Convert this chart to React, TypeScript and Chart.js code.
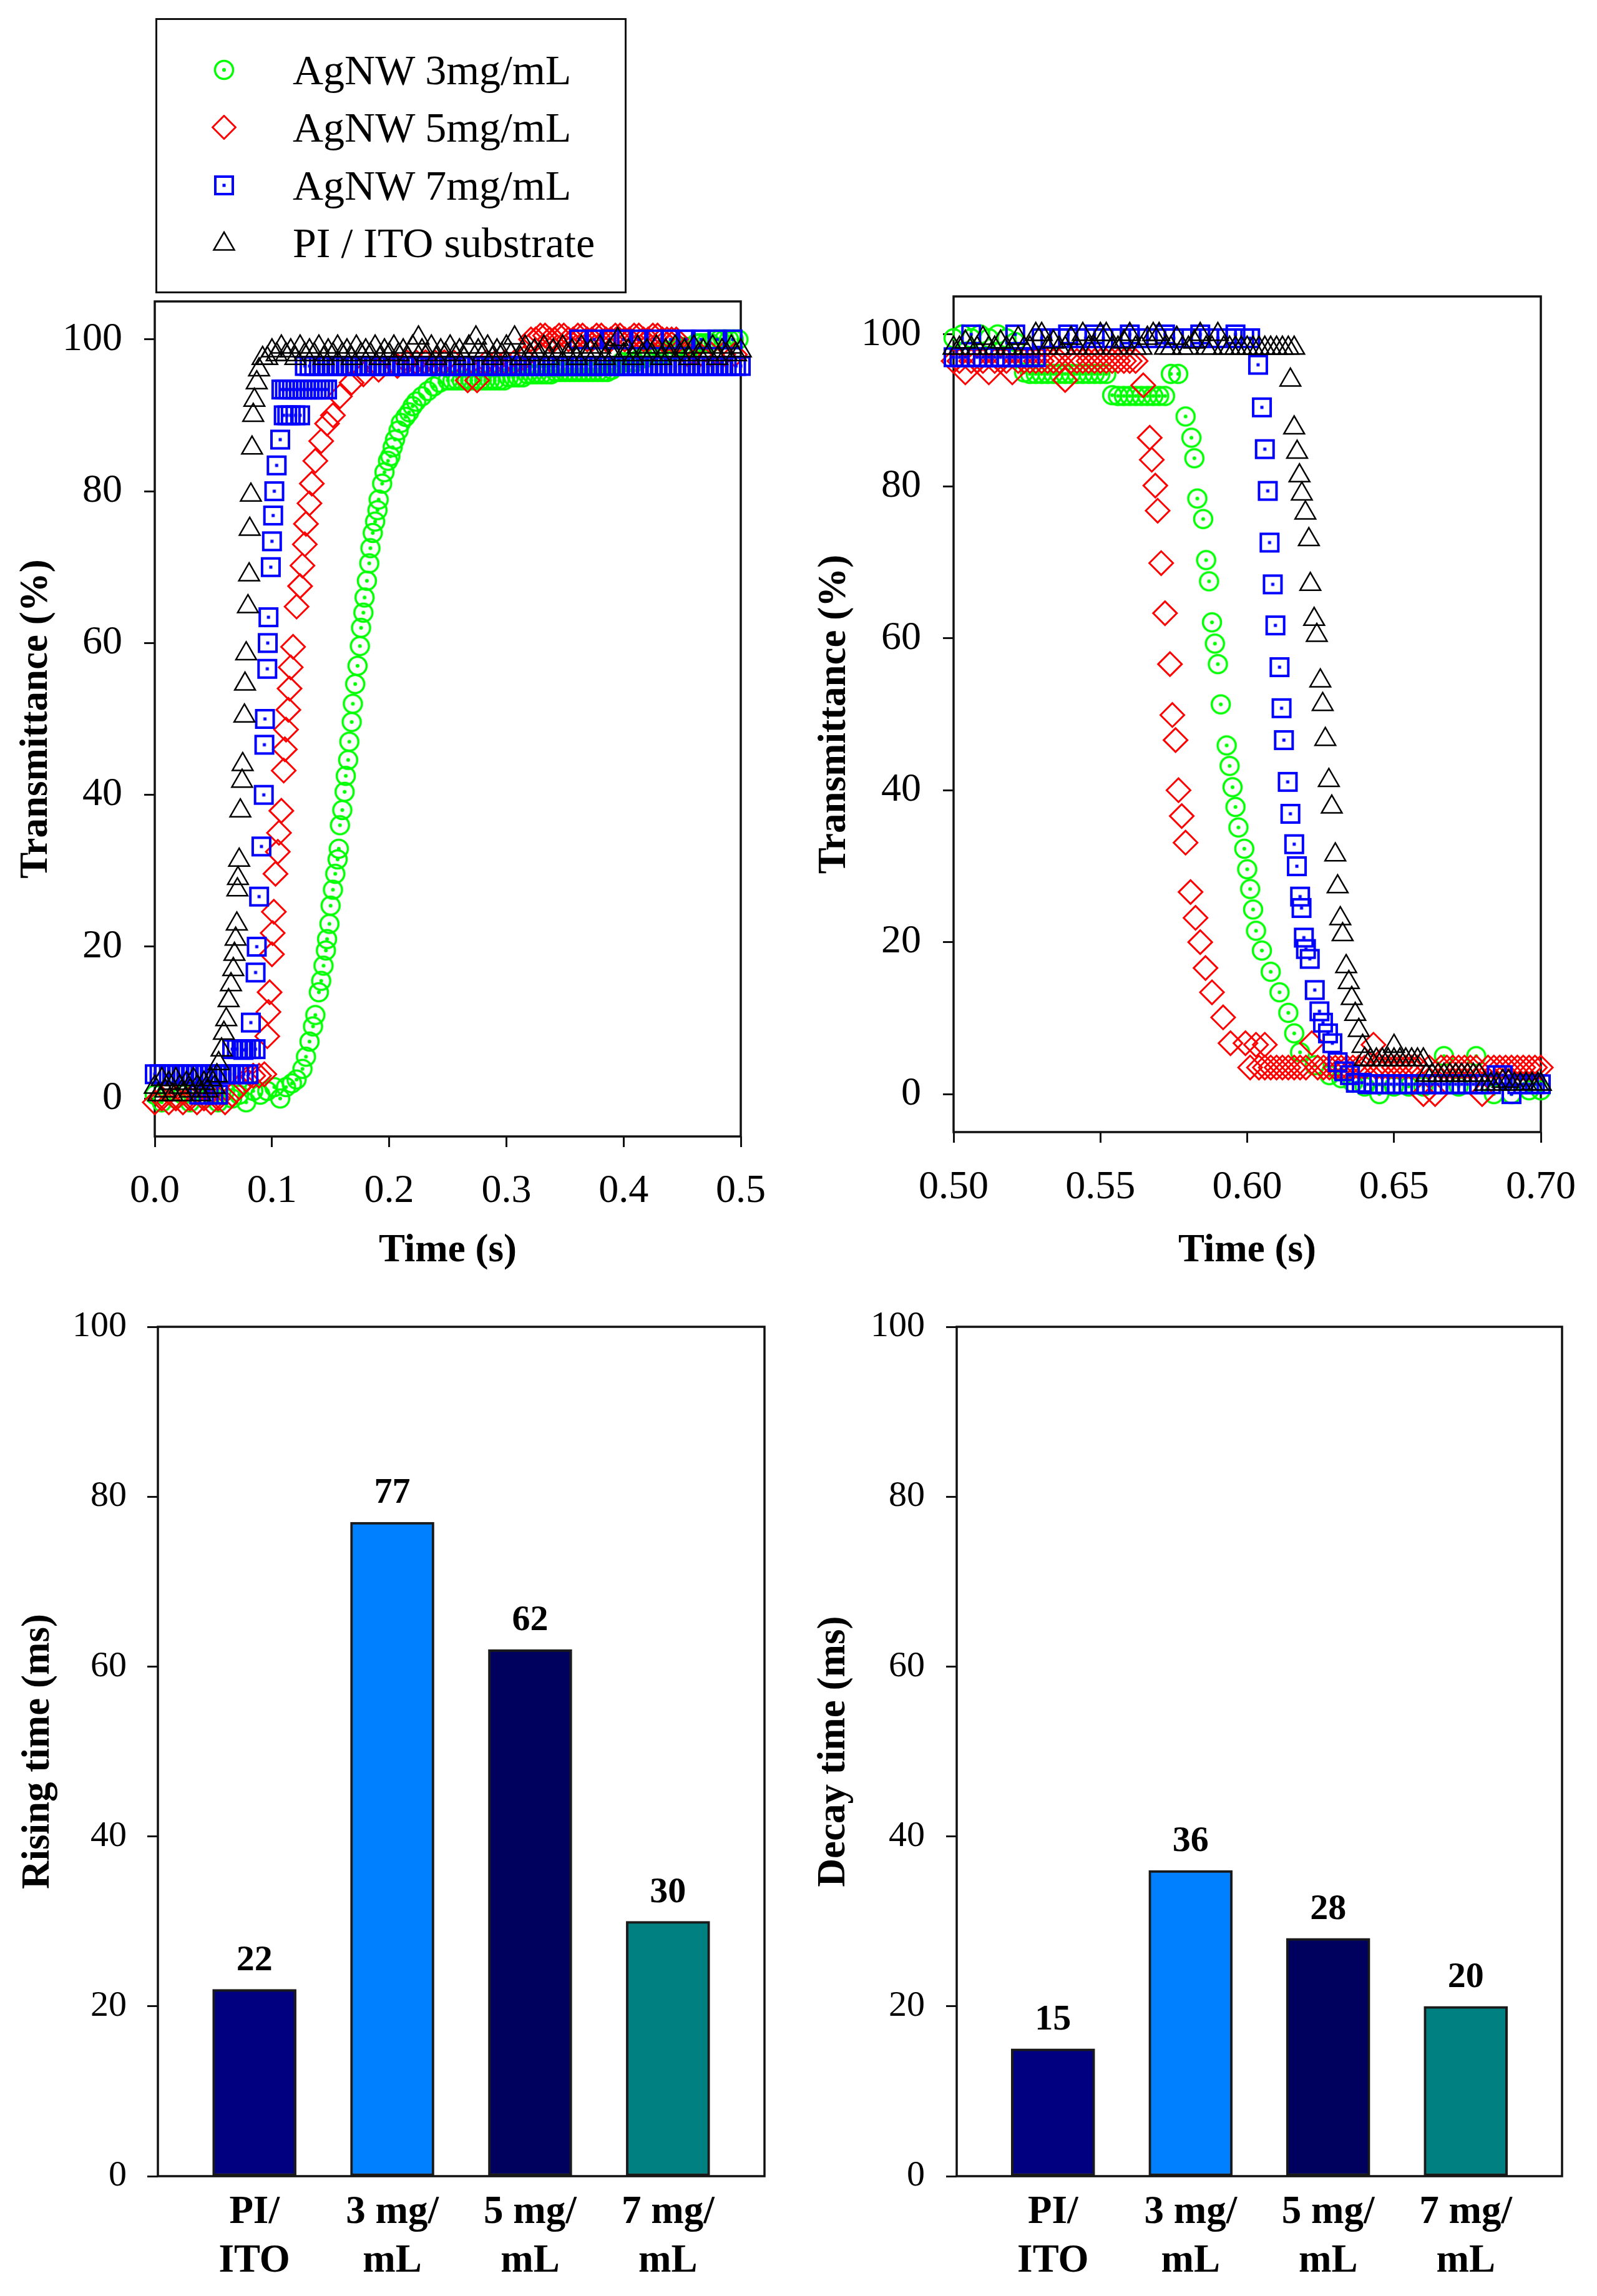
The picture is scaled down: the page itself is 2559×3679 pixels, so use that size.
import React, { useEffect, useRef } from "react";
import { Chart, registerables } from "chart.js";

Chart.register(...registerables);

const SERIF = "'Liberation Serif', 'Times New Roman', Times, serif";

// ---------------- data ----------------
const seriesLabels = ["AgNW 3mg/mL", "AgNW 5mg/mL", "AgNW 7mg/mL", "PI / ITO substrate"];
const seriesColors = ["#00ff00", "#ff0000", "#0000ff", "#000000"];

const riseTimeTicks = [0, 0.1, 0.2, 0.3, 0.4, 0.5];
const decayTimeTicks = [0.5, 0.55, 0.6, 0.65, 0.7];
const transmittanceTicks = [0, 20, 40, 60, 80, 100];
const responseTicks = [0, 20, 40, 60, 80, 100];

// rising edge, [time (s), transmittance (%)]
const rise3mg = [
  [0.000, 0.5], [0.006, -0.5], [0.012, 1], [0.018, 0], [0.024, 0.5], [0.030, -0.5], [0.036, 1], [0.042, 0],
  [0.048, 0.5], [0.054, -0.5], [0.060, 1], [0.066, 0], [0.072, 0.5], [0.078, -0.5], [0.084, 1], [0.090, 0.5],
  [0.096, 1], [0.102, 1.5], [0.107, 0], [0.112, 1.5], [0.117, 2], [0.121, 2.5],
  [0.126, 3.9], [0.129, 5.5], [0.132, 7.5], [0.135, 9.5], [0.137, 11], [0.140, 14], [0.142, 15.5], [0.144, 17.5],
  [0.146, 19.5], [0.147, 21], [0.149, 23], [0.150, 25.4], [0.152, 27.5], [0.154, 29.6], [0.156, 31.5], [0.157, 32.9],
  [0.158, 36], [0.160, 38], [0.162, 40.4], [0.163, 42.5], [0.165, 44.6], [0.166, 47], [0.168, 49.6], [0.169, 52],
  [0.171, 54.6], [0.173, 57], [0.175, 59.6], [0.176, 62], [0.178, 64], [0.179, 66], [0.181, 68.2], [0.183, 70.5],
  [0.184, 72.5], [0.186, 74.5], [0.188, 76], [0.190, 77.5], [0.191, 78.9], [0.194, 81], [0.196, 82.5], [0.199, 84],
  [0.201, 84.6], [0.203, 85.8], [0.205, 86.8], [0.208, 88], [0.210, 89], [0.214, 89.8], [0.217, 90.4], [0.220, 91.2],
  [0.223, 91.8], [0.228, 92.5], [0.233, 93.2], [0.238, 93.8], [0.243, 94.3], [0.250, 94.6],
  [0.254, 94.6], [0.258, 94.6], [0.262, 94.6], [0.266, 94.6], [0.270, 94.6], [0.274, 94.6], [0.278, 94.6], [0.282, 94.6],
  [0.286, 94.6], [0.290, 94.6], [0.294, 94.6], [0.298, 94.6], [0.302, 95], [0.306, 95], [0.310, 95], [0.314, 95],
  [0.318, 95.4], [0.322, 95.4], [0.326, 95.4], [0.330, 95.4], [0.334, 95.4], [0.338, 95.4], [0.342, 95.7], [0.346, 95.7],
  [0.350, 95.7], [0.354, 95.7], [0.358, 95.7], [0.362, 95.7], [0.366, 95.7], [0.370, 95.7], [0.374, 95.7], [0.378, 95.7],
  [0.382, 95.7], [0.386, 95.7], [0.390, 96], [0.394, 96.5], [0.398, 97], [0.402, 97], [0.406, 97], [0.410, 97],
  [0.414, 97.5], [0.418, 97.5], [0.422, 98], [0.426, 98], [0.430, 98], [0.434, 98], [0.438, 98.5], [0.442, 98.5],
  [0.446, 99], [0.450, 99], [0.454, 99], [0.458, 99], [0.462, 99.5], [0.466, 99.5], [0.470, 99.5], [0.474, 99.5],
  [0.478, 100], [0.482, 100], [0.486, 100], [0.490, 100], [0.494, 100], [0.498, 100],
];

const rise5mg = [
  [0.000, -0.5], [0.006, 0], [0.012, -0.5], [0.018, 0], [0.024, -0.5], [0.030, 0], [0.036, -0.5], [0.042, 0],
  [0.048, -0.5], [0.054, 0], [0.060, -0.5], [0.066, 0.5], [0.072, 1.5], [0.078, 2.5], [0.084, 3], [0.089, 3],
  [0.0935, 3.2], [0.096, 8.2], [0.097, 11.4], [0.098, 14], [0.100, 19], [0.1006, 21.8], [0.1016, 24.6], [0.103, 29.6],
  [0.105, 32.5], [0.106, 35], [0.108, 37.9], [0.110, 43.2], [0.111, 46], [0.112, 48.6], [0.114, 51.2], [0.115, 54],
  [0.116, 56.8], [0.118, 59.5], [0.121, 64.8], [0.124, 67.5], [0.126, 70.2], [0.128, 73], [0.129, 75.7], [0.132, 78.4],
  [0.134, 81], [0.137, 84], [0.142, 86.6], [0.147, 88.9], [0.152, 90], [0.158, 92.5], [0.168, 94.3], [0.178, 95.4],
  [0.191, 96], [0.207, 96.5],
  [0.215, 97], [0.223, 97], [0.231, 97], [0.239, 97], [0.247, 97], [0.255, 97], [0.267, 94.6], [0.275, 94.6],
  [0.283, 97], [0.291, 97], [0.299, 97], [0.307, 97], [0.315, 97.5], [0.321, 100], [0.325, 100], [0.329, 100.5],
  [0.333, 100.5], [0.337, 100], [0.341, 100], [0.345, 100.5], [0.349, 100.5], [0.353, 100], [0.357, 100], [0.361, 100.5],
  [0.365, 100.5], [0.369, 100], [0.373, 100], [0.377, 100.5], [0.381, 100.5], [0.385, 100], [0.389, 100], [0.393, 100.5],
  [0.397, 100.5], [0.401, 100], [0.405, 100], [0.409, 100.5], [0.413, 100.5], [0.417, 100], [0.421, 100], [0.425, 100.5],
  [0.429, 100.5], [0.433, 100], [0.437, 100], [0.441, 100], [0.445, 100], [0.455, 98], [0.465, 98], [0.475, 98],
  [0.485, 98], [0.495, 98],
];

const rise7mg = [
  [0.000, 3.2], [0.004, 3.2], [0.008, 3.2], [0.012, 3.2], [0.016, 3.2], [0.020, 3.2], [0.024, 3.2], [0.028, 3.2],
  [0.032, 3.2], [0.036, 3.2], [0.040, 3.2], [0.044, 3.2], [0.048, 3.2], [0.052, 3.2], [0.056, 3.2], [0.060, 3.2],
  [0.064, 3.2], [0.068, 3.2], [0.072, 3.2], [0.076, 3.2], [0.080, 3.2],
  [0.038, 0.5], [0.042, 0.5], [0.046, 0.5], [0.050, 0.5], [0.054, 0.5],
  [0.066, 6.5], [0.070, 6.5], [0.074, 6.5], [0.078, 6.5], [0.082, 6.5], [0.086, 6.5],
  [0.0756, 6.4], [0.082, 10], [0.086, 16.6], [0.087, 20], [0.089, 26.6], [0.091, 33.2], [0.093, 40], [0.0935, 46.6],
  [0.094, 50], [0.096, 56.6], [0.0964, 60], [0.097, 63.4], [0.099, 70], [0.100, 73.4], [0.101, 76.8], [0.102, 80],
  [0.104, 83.4], [0.107, 86.8], [0.110, 90], [0.113, 90], [0.116, 90], [0.120, 90], [0.124, 90],
  [0.108, 93.4], [0.111, 93.4], [0.114, 93.4], [0.117, 93.4], [0.120, 93.4], [0.123, 93.4], [0.126, 93.4], [0.129, 93.4],
  [0.132, 93.4], [0.135, 93.4], [0.138, 93.4], [0.141, 93.4], [0.144, 93.4], [0.147, 93.4],
  [0.128, 96.5], [0.132, 96.5], [0.136, 96.5], [0.140, 96.5], [0.144, 96.5], [0.148, 96.5], [0.152, 96.5], [0.156, 96.5],
  [0.160, 96.5], [0.164, 96.5], [0.168, 96.5], [0.172, 96.5], [0.176, 96.5], [0.180, 96.5], [0.184, 96.5], [0.188, 96.5],
  [0.192, 96.5], [0.196, 96.5], [0.200, 96.5], [0.204, 96.5], [0.208, 96.5], [0.212, 96.5], [0.216, 96.5], [0.220, 96.5],
  [0.224, 96.5], [0.228, 96.5], [0.232, 96.5], [0.236, 96.5], [0.240, 96.5], [0.244, 96.5], [0.248, 96.5], [0.252, 96.5],
  [0.256, 96.5], [0.260, 96.5], [0.264, 96.5], [0.268, 96.5], [0.272, 96.5], [0.276, 96.5], [0.280, 96.5], [0.284, 96.5],
  [0.288, 96.5], [0.292, 96.5], [0.296, 96.5], [0.300, 96.5], [0.304, 96.5], [0.308, 96.5], [0.312, 96.5], [0.316, 96.5],
  [0.320, 96.5], [0.324, 96.5], [0.328, 96.5], [0.332, 96.5], [0.336, 96.5], [0.340, 96.5], [0.344, 96.5], [0.348, 96.5],
  [0.352, 96.5], [0.356, 96.5], [0.360, 96.5], [0.364, 96.5], [0.368, 96.5], [0.372, 96.5], [0.376, 96.5], [0.380, 96.5],
  [0.384, 96.5], [0.388, 96.5], [0.392, 96.5], [0.396, 96.5], [0.400, 96.5], [0.404, 96.5], [0.408, 96.5], [0.412, 96.5],
  [0.416, 96.5], [0.420, 96.5], [0.424, 96.5], [0.428, 96.5], [0.432, 96.5], [0.436, 96.5], [0.440, 96.5], [0.444, 96.5],
  [0.448, 96.5], [0.452, 96.5], [0.456, 96.5], [0.460, 96.5], [0.464, 96.5], [0.468, 96.5], [0.472, 96.5], [0.476, 96.5],
  [0.480, 96.5], [0.484, 96.5], [0.488, 96.5], [0.492, 96.5], [0.496, 96.5], [0.500, 96.5],
  [0.362, 100], [0.375, 100], [0.388, 100], [0.400, 100], [0.413, 100], [0.426, 100], [0.440, 100], [0.453, 100],
  [0.466, 100], [0.480, 100], [0.493, 100],
];

const risePI = [
  [0.000, 1.5], [0.003, 0.5], [0.006, 2.5], [0.009, 1], [0.012, 2], [0.015, 0.5], [0.018, 2.5], [0.021, 1.5],
  [0.024, 0.5], [0.027, 2], [0.030, 1], [0.033, 2.5], [0.036, 1.5], [0.039, 0.5], [0.042, 2], [0.045, 1],
  [0.048, 2.5], [0.051, 1.5], [0.053, 3],
  [0.0545, 4.6], [0.057, 6.4], [0.059, 8.6], [0.061, 10.4], [0.063, 12.9], [0.065, 15], [0.067, 17], [0.068, 19],
  [0.069, 21], [0.070, 23], [0.0705, 27.5], [0.071, 29], [0.072, 31.4], [0.073, 37.9], [0.0745, 41.8], [0.075, 44],
  [0.0765, 50.4], [0.077, 54.6], [0.078, 58.6], [0.0795, 64.8], [0.0805, 69], [0.081, 75], [0.082, 79.5], [0.083, 85.7],
  [0.084, 90], [0.085, 92], [0.087, 94.3], [0.089, 96], [0.092, 97.5],
  [0.096, 97.5], [0.100, 98.5], [0.104, 98], [0.108, 99], [0.112, 98], [0.116, 98.5], [0.120, 97.5], [0.124, 99],
  [0.128, 98], [0.132, 98.5], [0.136, 98], [0.140, 99], [0.144, 97.5], [0.148, 98.5], [0.152, 98], [0.156, 99],
  [0.160, 98], [0.164, 98.5], [0.168, 97.5], [0.172, 99], [0.176, 98], [0.180, 98.5], [0.184, 98], [0.188, 99],
  [0.192, 97.5], [0.196, 98.5], [0.200, 98], [0.204, 99], [0.208, 98], [0.212, 98.5], [0.216, 97.5], [0.220, 99],
  [0.225, 100.2], [0.228, 98.5], [0.232, 98], [0.236, 99], [0.240, 97.5], [0.244, 98.5], [0.248, 98], [0.252, 99],
  [0.256, 98], [0.260, 98.5], [0.264, 97.5], [0.268, 99], [0.274, 100.2], [0.276, 98.5], [0.280, 98], [0.284, 99],
  [0.288, 97.5], [0.292, 98.5], [0.296, 98], [0.300, 99], [0.304, 98], [0.307, 100.2], [0.312, 97.5], [0.316, 99],
  [0.320, 98], [0.324, 98.5], [0.328, 98], [0.332, 99], [0.336, 97.5], [0.340, 98.5], [0.344, 98], [0.348, 99],
  [0.352, 98], [0.356, 98.5], [0.360, 97.5], [0.364, 99], [0.368, 98], [0.372, 98.5], [0.376, 98], [0.380, 99],
  [0.384, 97.5], [0.388, 98.5], [0.392, 98], [0.395, 100], [0.400, 98], [0.404, 98.5], [0.408, 97.5], [0.412, 99],
  [0.416, 98], [0.420, 98.5], [0.424, 98], [0.428, 99], [0.432, 97.5], [0.436, 98.5], [0.440, 98], [0.444, 99],
  [0.448, 98], [0.452, 98.5], [0.456, 97.5], [0.460, 99], [0.464, 98], [0.468, 98.5], [0.472, 98], [0.476, 99],
  [0.480, 97.5], [0.484, 98.5], [0.488, 98], [0.492, 99], [0.496, 98], [0.500, 98.5],
];

// falling edge, [time (s), transmittance (%)]
const decay3mg = [
  [0.500, 99.5], [0.503, 100], [0.506, 99.5], [0.509, 100], [0.512, 99.5], [0.515, 100], [0.518, 99.5], [0.521, 99],
  [0.524, 95], [0.526, 94.8], [0.528, 94.8], [0.530, 94.8], [0.532, 94.8], [0.534, 94.8], [0.536, 94.8], [0.538, 94.8],
  [0.540, 94.8], [0.542, 94.8], [0.544, 94.8], [0.546, 94.8], [0.548, 94.8], [0.550, 94.8], [0.552, 94.8],
  [0.554, 92], [0.556, 91.9], [0.558, 91.9], [0.560, 91.9], [0.562, 91.9], [0.564, 91.9], [0.566, 91.9], [0.568, 91.9],
  [0.570, 91.9], [0.572, 91.9], [0.574, 94.8],
  [0.5765, 94.8], [0.579, 89.2], [0.581, 86.4], [0.582, 83.7], [0.583, 78.4], [0.585, 75.7], [0.586, 70.3], [0.587, 67.5],
  [0.588, 62.1], [0.589, 59.3], [0.590, 56.6], [0.591, 51.3], [0.593, 45.9], [0.594, 43.2], [0.595, 40.4], [0.596, 37.8],
  [0.597, 35.1], [0.599, 32.3], [0.600, 29.6], [0.601, 27], [0.602, 24.3], [0.603, 21.5], [0.605, 18.9], [0.608, 16.1],
  [0.611, 13.4], [0.614, 10.7], [0.616, 8.0], [0.618, 5.5], [0.623, 3.8], [0.628, 2.5], [0.632, 2.1],
  [0.636, 1.5], [0.640, 1], [0.645, 0], [0.650, 1], [0.655, 1], [0.660, 1], [0.667, 5], [0.672, 1],
  [0.678, 5], [0.684, 0], [0.690, 0], [0.696, 0.5], [0.700, 0.5],
];

const decay5mg = [
  [0.500, 96.5], [0.502, 96.5], [0.504, 95], [0.506, 96.5], [0.508, 96.5], [0.510, 96.5], [0.512, 95], [0.514, 96.5],
  [0.516, 96.5], [0.518, 96.5], [0.520, 95], [0.522, 96.5], [0.524, 96.5], [0.526, 96.5], [0.528, 96.5], [0.530, 96.5],
  [0.532, 96.5], [0.534, 96.5], [0.536, 96.5], [0.538, 94], [0.540, 96.5], [0.542, 96.5], [0.544, 96.5], [0.546, 96.5],
  [0.548, 96.5], [0.550, 96.5], [0.552, 96.5], [0.554, 96.5], [0.556, 96.5], [0.558, 96.5], [0.560, 96.5], [0.562, 96.5],
  [0.5646, 93.3],
  [0.5668, 86.4], [0.5675, 83.5], [0.5687, 80.1], [0.5695, 76.8], [0.5707, 69.9], [0.572, 63.3], [0.5737, 56.6],
  [0.5745, 49.9], [0.5756, 46.6], [0.5766, 40.0], [0.5777, 36.6], [0.579, 33.1], [0.5807, 26.6], [0.5824, 23.2],
  [0.584, 20], [0.5858, 16.6], [0.588, 13.4], [0.5918, 10.1], [0.5943, 6.7], [0.5994, 6.7], [0.601, 3.5],
  [0.603, 6.5], [0.606, 6.5], [0.604, 3.5], [0.606, 3.5], [0.608, 3.5], [0.610, 3.5], [0.612, 3.5], [0.614, 3.5],
  [0.616, 3.5], [0.618, 3.5], [0.620, 3.5], [0.622, 6.7], [0.624, 3.5], [0.626, 3.5], [0.628, 3.5], [0.630, 3.5],
  [0.632, 3.5], [0.634, 3.5], [0.636, 3.5], [0.638, 3.5], [0.640, 3.5], [0.643, 6.5], [0.644, 3.5], [0.646, 3.5],
  [0.648, 3.5], [0.650, 3.5], [0.652, 3.5], [0.654, 3.5], [0.656, 3.5], [0.658, 3.5], [0.660, 0], [0.664, 0],
  [0.662, 3.5], [0.666, 3.5], [0.668, 3.5], [0.670, 3.5], [0.672, 3.5], [0.674, 3.5], [0.676, 3.5], [0.678, 3.5],
  [0.680, 0], [0.682, 3.5], [0.684, 3.5], [0.686, 3.5], [0.688, 3.5], [0.690, 3.5], [0.692, 3.5], [0.694, 3.5],
  [0.696, 3.5], [0.698, 3.5], [0.700, 3.5],
];

const decay7mg = [
  [0.500, 97], [0.502, 97], [0.504, 97], [0.506, 100], [0.508, 97], [0.510, 97], [0.512, 97], [0.514, 97],
  [0.516, 97], [0.518, 97], [0.520, 97], [0.521, 100], [0.522, 97], [0.524, 97], [0.526, 97], [0.528, 97],
  [0.530, 99.5], [0.533, 99.5], [0.536, 99.5], [0.539, 100], [0.542, 99.5], [0.545, 99.5], [0.548, 100], [0.551, 99.5],
  [0.554, 99.5], [0.557, 99.5], [0.560, 100], [0.563, 99.5], [0.566, 99.5], [0.569, 99.5], [0.572, 100], [0.575, 99.5],
  [0.578, 99.5], [0.581, 99.5], [0.584, 100], [0.587, 99.5], [0.590, 99.5], [0.593, 99.5], [0.596, 100], [0.599, 99.5],
  [0.601, 99.5],
  [0.6037, 96], [0.605, 90.4], [0.606, 84.9], [0.607, 79.4], [0.6076, 72.6], [0.6087, 67.1], [0.6096, 61.7], [0.611, 56.2],
  [0.6117, 50.8], [0.6125, 46.6], [0.6138, 41.1], [0.6147, 36.9], [0.616, 32.9], [0.6169, 30], [0.618, 26], [0.6185, 24.5],
  [0.6193, 20.6], [0.620, 19.1], [0.6213, 17.8], [0.623, 13.7], [0.6246, 10.9], [0.6258, 9.4], [0.6275, 8], [0.629, 6.7],
  [0.6308, 4.2], [0.633, 3], [0.635, 2.5],
  [0.637, 1.5], [0.639, 1.5], [0.641, 1.3], [0.643, 1.3], [0.645, 1.3], [0.647, 1.3], [0.649, 1.3], [0.651, 1.3],
  [0.653, 1.3], [0.655, 1.3], [0.657, 1.3], [0.659, 1.3], [0.661, 1.3], [0.663, 1.3], [0.665, 1.3], [0.667, 1.3],
  [0.669, 1.3], [0.671, 1.3], [0.673, 1.3], [0.675, 1.3], [0.677, 1.3], [0.679, 1.3], [0.681, 1.3], [0.683, 1.3],
  [0.685, 2.5], [0.687, 2.5], [0.690, 0], [0.692, 1.3], [0.694, 1.3], [0.696, 1.3], [0.698, 1.3], [0.700, 1.3],
];

const decayPI = [
  [0.500, 98.2], [0.502, 98.2], [0.504, 99], [0.506, 98.2], [0.508, 98.2], [0.510, 99.5], [0.512, 98.2], [0.514, 98.2],
  [0.516, 99], [0.518, 98.2], [0.520, 98.2], [0.522, 99.5], [0.524, 98.2], [0.526, 98.2], [0.528, 100], [0.530, 100],
  [0.532, 98.2], [0.534, 99], [0.536, 98.2], [0.538, 98.2], [0.540, 99.5], [0.542, 98.2], [0.544, 100], [0.546, 98.2],
  [0.548, 98.2], [0.550, 100], [0.552, 100], [0.554, 98.2], [0.556, 98.2], [0.558, 99], [0.560, 100], [0.562, 98.2],
  [0.564, 98.2], [0.566, 99.5], [0.568, 100], [0.570, 100], [0.572, 98.2], [0.574, 98.2], [0.576, 99.5], [0.578, 98.2],
  [0.580, 98.2], [0.582, 99], [0.584, 100], [0.586, 98.2], [0.588, 98.2], [0.590, 100], [0.592, 98.2], [0.594, 98.2],
  [0.596, 98.2], [0.598, 98.2], [0.600, 98.2], [0.602, 98.2], [0.604, 98.2], [0.606, 98.2], [0.608, 98.2], [0.610, 98.2],
  [0.612, 98.2], [0.614, 98.2], [0.616, 98.2],
  [0.6147, 94], [0.616, 87.7], [0.617, 84.5], [0.6178, 81.4], [0.6186, 79], [0.6198, 76.5], [0.621, 73], [0.6215, 67.1],
  [0.6228, 62.5], [0.6237, 60.4], [0.6249, 54.4], [0.6257, 51.3], [0.6266, 46.7], [0.6278, 41.3], [0.6288, 37.8], [0.630, 31.5],
  [0.6308, 27.3], [0.6317, 23.1], [0.6325, 21], [0.6337, 16.8], [0.6346, 14.7], [0.6356, 12.6], [0.6368, 10.5], [0.638, 8.4],
  [0.6393, 6.3], [0.640, 4.6],
  [0.642, 4.5], [0.644, 4.5], [0.646, 4.5], [0.648, 4.5], [0.650, 6.3], [0.650, 4.5], [0.652, 4.5], [0.654, 4.5],
  [0.656, 4.5], [0.658, 4.5], [0.660, 4.5], [0.661, 2.5], [0.663, 2.5], [0.665, 2.5], [0.667, 2.5], [0.669, 2.5],
  [0.671, 2.5], [0.673, 2.5], [0.675, 2.5], [0.677, 2.5], [0.679, 2.5], [0.681, 1.3], [0.683, 1.3], [0.685, 1.3],
  [0.687, 1.7], [0.689, 1.7], [0.691, 1.3], [0.693, 1.3], [0.695, 1.3], [0.697, 1.3], [0.699, 1.3], [0.700, 1.3],
];

const barCategories = [["PI/", "ITO"], ["3 mg/", "mL"], ["5 mg/", "mL"], ["7 mg/", "mL"]];
const risingTimes = [22, 77, 62, 30];
const decayTimes = [15, 36, 28, 20];
const barColors = ["#000080", "#0080ff", "#00005e", "#008080"];

// ---------------- helpers ----------------
function circleDot(color: string) {
  const c = document.createElement("canvas");
  c.width = 40;
  c.height = 40;
  const ctx = c.getContext("2d")!;
  ctx.strokeStyle = color;
  ctx.lineWidth = 3.5;
  ctx.beginPath();
  ctx.arc(20, 20, 14.5, 0, Math.PI * 2);
  ctx.stroke();
  ctx.fillStyle = color;
  ctx.beginPath();
  ctx.arc(20, 20, 3, 0, Math.PI * 2);
  ctx.fill();
  return c;
}

function squareDot(color: string) {
  const c = document.createElement("canvas");
  c.width = 38;
  c.height = 38;
  const ctx = c.getContext("2d")!;
  ctx.strokeStyle = color;
  ctx.lineWidth = 4;
  ctx.strokeRect(5, 5, 28, 28);
  ctx.fillStyle = color;
  ctx.fillRect(16.5, 16.5, 5, 5);
  return c;
}

const framePlugin = {
  id: "frame",
  beforeDatasetsDraw(chart: any) {
    const { ctx, chartArea: a } = chart;
    ctx.save();
    ctx.strokeStyle = "#111";
    ctx.lineWidth = 3.5;
    ctx.strokeRect(a.left, a.top, a.right - a.left, a.bottom - a.top);
    ctx.restore();
  },
};

const barLabelPlugin = {
  id: "barLabels",
  afterDatasetsDraw(chart: any) {
    const ctx = chart.ctx;
    const meta = chart.getDatasetMeta(0);
    const ds = chart.data.datasets[0].data;
    ctx.save();
    ctx.font = `bold 58px ${SERIF}`;
    ctx.fillStyle = "#000";
    ctx.textAlign = "center";
    ctx.textBaseline = "alphabetic";
    meta.data.forEach((el: any, i: number) => {
      ctx.fillText(String(ds[i].y), el.x, el.y - 31);
    });
    ctx.restore();
  },
};

type ScatterParams = {
  series: number[][][];
  styles: any[];
  xMin: number;
  xMax: number;
  xTicks: number[];
  decimals: number;
  padTop: number;
  padRight: number;
  yWidth: number;
  xHeight: number;
  yTitlePad: number;
  yTickPad: number;
  xTickPad: number;
};

function scatterConfig(p: ScatterParams): any {
  const radii = [16, 19, 16, 19];
  const widths = [3.5, 3, 4, 2.5];
  return {
    type: "scatter",
    data: {
      datasets: p.series.map((pts, i) => ({
        label: seriesLabels[i],
        data: pts.map(([x, y]) => ({ x, y })),
        pointStyle: p.styles[i],
        pointRadius: radii[i],
        pointBorderWidth: widths[i],
        pointBorderColor: seriesColors[i],
        pointBackgroundColor: "rgba(0,0,0,0)",
        borderColor: seriesColors[i],
        backgroundColor: "rgba(0,0,0,0)",
        showLine: false,
        order: 4 - i,
        clip: false,
      })),
    },
    options: {
      animation: false,
      responsive: false,
      devicePixelRatio: 1,
      events: [],
      layout: { padding: { top: p.padTop, right: p.padRight, bottom: 0, left: 0 } },
      plugins: { legend: { display: false }, tooltip: { enabled: false } },
      scales: {
        x: {
          type: "linear",
          min: p.xMin,
          max: p.xMax,
          afterFit: (s: any) => {
            s.height = p.xHeight;
          },
          afterBuildTicks: (s: any) => {
            s.ticks = p.xTicks.map((v) => ({ value: v }));
          },
          ticks: {
            callback: (v: number) => Number(v).toFixed(p.decimals),
            font: { family: SERIF, size: 64 },
            color: "#000",
            padding: p.xTickPad,
            autoSkip: false,
            maxRotation: 0,
          },
          grid: { drawOnChartArea: false, drawTicks: true, tickLength: 17, tickWidth: 3, tickColor: "#111" },
          border: { display: false },
          title: {
            display: true,
            text: "Time (s)",
            color: "#000",
            font: { family: SERIF, size: 63, weight: "bold" },
            padding: { top: 0, bottom: 7 },
          },
        },
        y: {
          type: "linear",
          min: -5,
          max: 105,
          afterFit: (s: any) => {
            s.width = p.yWidth;
          },
          afterBuildTicks: (s: any) => {
            s.ticks = transmittanceTicks.map((v) => ({ value: v }));
          },
          ticks: {
            callback: (v: number) => String(v),
            font: { family: SERIF, size: 64 },
            color: "#000",
            padding: p.yTickPad,
          },
          grid: { drawOnChartArea: false, drawTicks: true, tickLength: 17, tickWidth: 3, tickColor: "#111" },
          border: { display: false },
          title: {
            display: true,
            text: "Transmittance (%)",
            color: "#000",
            font: { family: SERIF, size: 63, weight: "bold" },
            padding: { top: p.yTitlePad, bottom: 0 },
          },
        },
      },
    },
    plugins: [framePlugin],
  };
}

type BarParams = { values: number[]; title: string; padRight: number; yWidth: number; yTitlePad: number; yTickPad: number };

function barConfig(p: BarParams): any {
  return {
    type: "bar",
    data: {
      datasets: [
        {
          label: p.title,
          data: p.values.map((v, i) => ({ x: i, y: v })),
          backgroundColor: barColors,
          borderColor: "#1a1a1a",
          borderWidth: 4,
          borderSkipped: false,
          barThickness: 134,
        },
      ],
    },
    options: {
      animation: false,
      responsive: false,
      devicePixelRatio: 1,
      events: [],
      layout: { padding: { top: 76, right: p.padRight, bottom: 0, left: 0 } },
      plugins: { legend: { display: false }, tooltip: { enabled: false } },
      scales: {
        x: {
          type: "linear",
          min: -0.7,
          max: 3.7,
          offset: false,
          afterFit: (s: any) => {
            s.height = 192;
          },
          afterBuildTicks: (s: any) => {
            s.ticks = barCategories.map((_, i) => ({ value: i }));
          },
          ticks: {
            callback: (v: number) => barCategories[Math.round(v)],
            font: { family: SERIF, size: 63, weight: "bold", lineHeight: 1.24 },
            color: "#000",
            padding: 20,
            autoSkip: false,
            maxRotation: 0,
          },
          grid: { display: true, drawOnChartArea: false, drawTicks: false, offset: false },
          border: { display: false },
        },
        y: {
          type: "linear",
          min: 0,
          max: 100,
          afterFit: (s: any) => {
            s.width = p.yWidth;
          },
          afterBuildTicks: (s: any) => {
            s.ticks = responseTicks.map((v) => ({ value: v }));
          },
          ticks: {
            callback: (v: number) => String(v),
            font: { family: SERIF, size: 58 },
            color: "#000",
            padding: p.yTickPad,
          },
          grid: { drawOnChartArea: false, drawTicks: true, tickLength: 17, tickWidth: 3, tickColor: "#111" },
          border: { display: false },
          title: {
            display: true,
            text: p.title,
            color: "#000",
            font: { family: SERIF, size: 63, weight: "bold" },
            padding: { top: p.yTitlePad, bottom: 0 },
          },
        },
      },
    },
    plugins: [framePlugin, barLabelPlugin],
  };
}

function LegendMarker({ i }: { i: number }) {
  const c = seriesColors[i];
  return (
    <svg width={40} height={40} viewBox="0 0 40 40" style={{ display: "block" }}>
      {i === 0 && (
        <g>
          <circle cx={20} cy={20} r={14.5} fill="none" stroke={c} strokeWidth={3.5} />
          <circle cx={20} cy={20} r={3} fill={c} />
        </g>
      )}
      {i === 1 && <polygon points="20,1.5 38.5,20 20,38.5 1.5,20" fill="none" stroke={c} strokeWidth={3} />}
      {i === 2 && (
        <g>
          <rect x={6} y={6} width={28} height={28} fill="none" stroke={c} strokeWidth={4} />
          <rect x={17.5} y={17.5} width={5} height={5} fill={c} />
        </g>
      )}
      {i === 3 && <polygon points="20,3 36.5,31.5 3.5,31.5" fill="none" stroke={c} strokeWidth={2.5} />}
    </svg>
  );
}

export default function App() {
  const riseRef = useRef<HTMLCanvasElement>(null);
  const decayRef = useRef<HTMLCanvasElement>(null);
  const riseBarRef = useRef<HTMLCanvasElement>(null);
  const decayBarRef = useRef<HTMLCanvasElement>(null);

  useEffect(() => {
    Chart.defaults.font.family = SERIF;
    Chart.defaults.color = "#000";
    const styles = [circleDot(seriesColors[0]), "rectRot", squareDot(seriesColors[2]), "triangle"];
    const charts = [
      new Chart(
        riseRef.current!,
        scatterConfig({
          series: [rise3mg, rise5mg, rise7mg, risePI],
          styles,
          xMin: 0,
          xMax: 0.5,
          xTicks: riseTimeTicks,
          decimals: 1,
          padTop: 83,
          padRight: 50,
          yWidth: 248,
          xHeight: 229,
          yTitlePad: 21,
          yTickPad: 35,
          xTickPad: 33,
        })
      ),
      new Chart(
        decayRef.current!,
        scatterConfig({
          series: [decay3mg, decay5mg, decay7mg, decayPI],
          styles,
          xMin: 0.5,
          xMax: 0.7,
          xTicks: decayTimeTicks,
          decimals: 2,
          padTop: 75,
          padRight: 70,
          yWidth: 258,
          xHeight: 236,
          yTitlePad: 30,
          yTickPad: 35,
          xTickPad: 34,
        })
      ),
      new Chart(
        riseBarRef.current!,
        barConfig({ values: risingTimes, title: "Rising time (ms)", padRight: 35, yWidth: 253, yTitlePad: 24, yTickPad: 33 })
      ),
      new Chart(
        decayBarRef.current!,
        barConfig({ values: decayTimes, title: "Decay time (ms)", padRight: 56, yWidth: 263, yTitlePad: 29, yTickPad: 34 })
      ),
    ];
    return () => charts.forEach((c) => c.destroy());
  }, []);

  const legendRows = [111.6, 204, 296.5, 389];

  return (
    <div
      style={{
        position: "absolute",
        left: 0,
        top: 0,
        width: 2559,
        height: 3679,
        background: "#fff",
        overflow: "hidden",
        fontFamily: SERIF,
      }}
    >
      <div
        style={{
          position: "absolute",
          left: 249,
          top: 29,
          width: 755,
          height: 441,
          border: "3px solid #111",
          boxSizing: "border-box",
        }}
      />
      {seriesLabels.map((name, i) => (
        <React.Fragment key={name}>
          <div style={{ position: "absolute", left: 339, top: legendRows[i] - 20 }}>
            <LegendMarker i={i} />
          </div>
          <div
            style={{
              position: "absolute",
              left: 469,
              top: legendRows[i] - 40,
              height: 80,
              lineHeight: "80px",
              fontSize: 68,
              color: "#000",
              whiteSpace: "nowrap",
            }}
          >
            {name}
          </div>
        </React.Fragment>
      ))}
      <canvas ref={riseRef} width={1260} height={1650} style={{ position: "absolute", left: 0, top: 400 }} />
      <canvas ref={decayRef} width={1289} height={1650} style={{ position: "absolute", left: 1270, top: 400 }} />
      <canvas ref={riseBarRef} width={1260} height={1629} style={{ position: "absolute", left: 0, top: 2050 }} />
      <canvas ref={decayBarRef} width={1289} height={1629} style={{ position: "absolute", left: 1270, top: 2050 }} />
    </div>
  );
}
